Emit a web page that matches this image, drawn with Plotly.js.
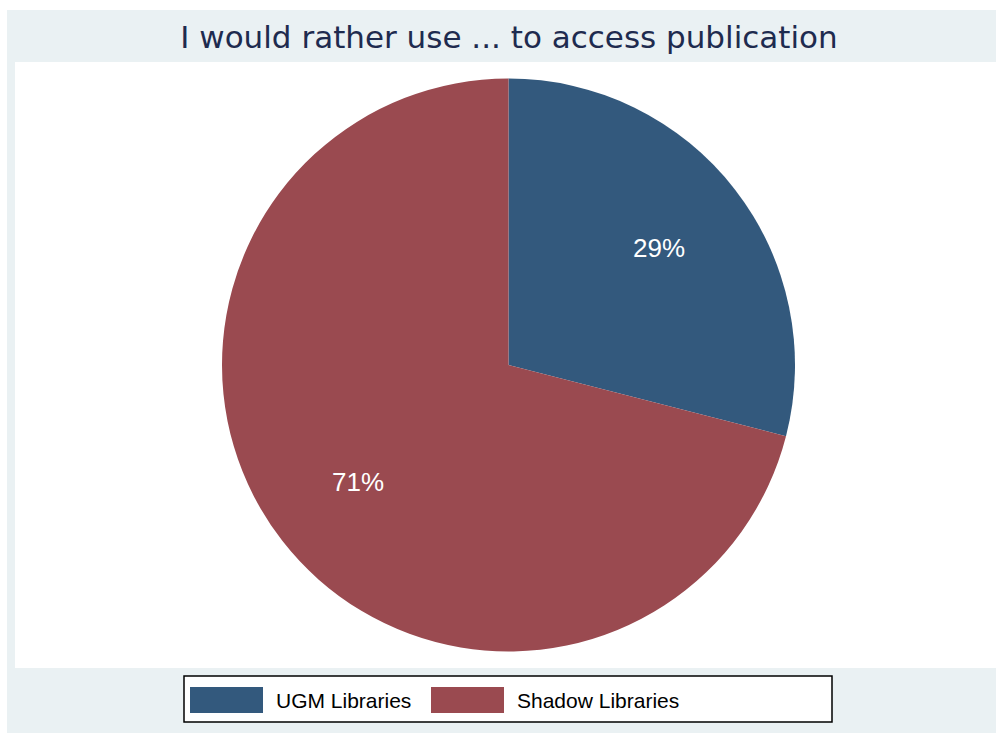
<!DOCTYPE html>
<html>
<head>
<meta charset="utf-8">
<script src="https://cdn.plot.ly/plotly-3.0.1.min.js"></script>
<style>html,body{margin:0;padding:0;background:#fff;}#chart{width:996px;height:733px;}</style>
</head>
<body>
<div id="chart"></div>
<script>
const categories = ["UGM Libraries", "Shadow Libraries"];
const shares = [29, 71];
const colors = ["#33597D", "#9A4A50"];
const titleText = "I would rather use ... to access publication";

const W = 996, H = 733;
const px = x => x / W;
const py = y => 1 - y / H;

// pie geometry (pixels)
const CX = 508.5, CY = 365, R = 286.5;

const shapes = [
  {type:"rect", xref:"paper", yref:"paper", x0:px(7), x1:px(996), y0:py(733), y1:py(10), fillcolor:"#EAF1F3", line:{width:0}, layer:"below"},
  {type:"rect", xref:"paper", yref:"paper", x0:px(15), x1:px(996), y0:py(668), y1:py(62), fillcolor:"#FFFFFF", line:{width:0}, layer:"below"},
  {type:"rect", xref:"paper", yref:"paper", x0:px(184), x1:px(832), y0:py(722), y1:py(676), fillcolor:"#FFFFFF", line:{color:"#000000", width:1.5}, layer:"below"}
];
const annotations = [];
const swX = [190, 431];
categories.forEach((c, i) => {
  shapes.push({type:"rect", xref:"paper", yref:"paper", x0:px(swX[i]), x1:px(swX[i]+73), y0:py(713), y1:py(687), fillcolor:colors[i], line:{width:0}});
  annotations.push({xref:"paper", yref:"paper", x:px(swX[i]+84), y:py(700), xanchor:"left", yanchor:"middle", text:c, showarrow:false, font:{family:"Liberation Sans, Arial, sans-serif", size:21, color:"#000000"}});
});

// percentage labels placed along each slice's bisector
const total = shares.reduce((a, b) => a + b, 0);
let cum = 0;
shares.forEach((v, i) => {
  const mid = (cum + v / 2) / total * 2 * Math.PI;
  cum += v;
  const r = 0.665 * R;
  annotations.push({xref:"paper", yref:"paper", x:px(CX + r * Math.sin(mid)), y:py(CY - r * Math.cos(mid)),
    xanchor:"center", yanchor:"middle", text:Math.round(v / total * 100) + "%", showarrow:false,
    font:{family:"Liberation Sans, Arial, sans-serif", size:26, color:"#FFFFFF"}});
});

const data = [{
  type: "pie",
  labels: categories,
  values: shares,
  sort: false,
  direction: "clockwise",
  rotation: 0,
  marker: {colors: colors, line: {width: 0}},
  textinfo: "none",
  hoverinfo: "none",
  showlegend: false,
  domain: {x:[px(CX - R), px(CX + R)], y:[py(CY + R), py(CY - R)]}
}];

const layout = {
  width: W, height: H,
  margin: {l:0, r:0, t:0, b:0},
  paper_bgcolor: "#FFFFFF",
  title: {text: titleText, x:px(509), xanchor:"center", y:py(37), yanchor:"middle", yref:"paper",
          font:{family:"DejaVu Sans, sans-serif", size:31, color:"#1E2B4F"}},
  shapes: shapes,
  annotations: annotations,
  showlegend: false
};

Plotly.newPlot("chart", data, layout, {staticPlot:true});
</script>
</body>
</html>
